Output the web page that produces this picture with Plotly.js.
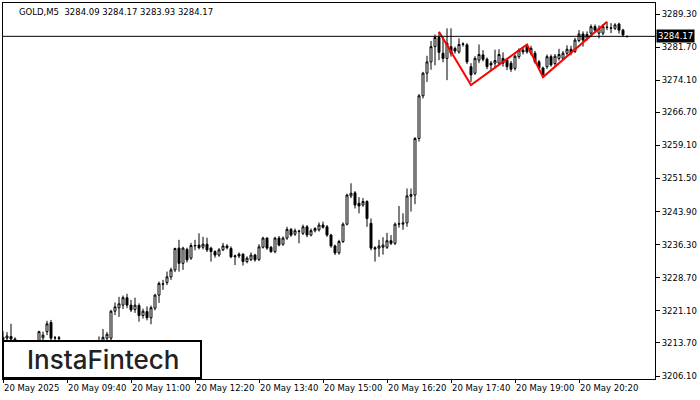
<!DOCTYPE html>
<html>
<head>
<meta charset="utf-8">
<script src="https://cdn.plot.ly/plotly-3.0.1.min.js"></script>
<style>html,body{margin:0;padding:0;background:#fff;}#chart{width:700px;height:400px;}</style>
</head>
<body>
<div id="chart"></div>
<script>
// ---- data ----
const symbol = "GOLD";
const timeframe = "M5";
const openP = [3214.5,3214.8,3215.2,3214.6,3213.6,3212.0,3212.8,3211.9,3212.6,3214.0,
3214.9,3216.3,3218.4,3214.9,3214.9,3213.6,3212.4,3211.3,3212.2,3211.6,
3210.8,3212.0,3212.7,3212.1,3213.0,3213.8,3214.8,3214.8,3221.0,3221.8,
3222.4,3224.1,3222.4,3221.4,3222.3,3220.0,3220.9,3219.5,3221.7,3224.7,
3227.3,3227.6,3228.9,3230.5,3235.5,3232.0,3235.2,3233.2,3236.0,3236.2,
3235.7,3236.4,3235.5,3234.7,3233.9,3235.1,3236.0,3235.4,3233.5,3234.1,
3234.1,3232.4,3232.9,3233.9,3232.9,3235.7,3237.8,3235.7,3234.7,3237.8,
3236.4,3237.8,3239.8,3238.7,3239.3,3238.9,3240.4,3238.5,3239.5,3239.7,
3240.8,3240.4,3238.5,3236.0,3234.4,3237.0,3241.0,3247.5,3248.2,3245.8,
3245.4,3246.2,3241.2,3235.6,3235.5,3235.7,3235.7,3237.2,3236.6,3241.0,
3241.0,3241.3,3247.4,3247.7,3260.7,3270.5,3275.7,3278.3,3281.8,3283.9,
3280.3,3279.1,3281.8,3281.4,3280.6,3282.3,3282.2,3277.2,3275.7,3278.7,
3279.9,3278.9,3278.0,3278.0,3278.0,3279.1,3278.7,3278.0,3276.8,3279.5,
3281.0,3281.8,3280.3,3280.3,3278.3,3276.9,3277.2,3279.5,3277.9,3279.1,
3279.1,3280.3,3281.2,3280.7,3283.2,3284.7,3283.7,3284.9,3286.4,3284.9,
3284.9,3286.3,3286.0,3286.0,3287.0,3285.6,3284.09];
const highP = [3216.4,3216.2,3218.1,3215.0,3213.8,3213.2,3213.6,3213.0,3213.8,3216.5,
3216.3,3218.8,3219.0,3215.3,3215.3,3213.8,3213.5,3212.6,3213.3,3212.4,
3212.5,3213.1,3213.6,3213.4,3215.2,3216.9,3216.2,3221.3,3223.0,3224.3,
3224.6,3225.0,3223.6,3224.1,3222.8,3221.6,3222.1,3222.3,3225.0,3227.8,
3228.2,3230.1,3231.0,3235.6,3237.4,3235.8,3235.6,3236.7,3237.4,3238.9,
3238.1,3237.9,3235.8,3235.0,3235.5,3236.7,3236.4,3235.9,3234.0,3234.5,
3234.3,3233.6,3234.5,3234.2,3236.4,3238.1,3238.0,3236.0,3238.1,3238.3,
3238.2,3240.4,3240.1,3240.0,3239.7,3240.9,3240.8,3240.0,3240.3,3241.4,
3241.6,3240.8,3238.8,3236.3,3237.4,3241.4,3248.0,3250.4,3248.6,3247.2,
3247.0,3246.5,3242.3,3235.9,3237.4,3238.0,3239.0,3238.5,3241.4,3245.2,
3243.5,3249.2,3249.2,3261.0,3270.9,3276.0,3279.7,3283.1,3284.6,3285.2,
3284.1,3286.0,3286.0,3281.8,3283.7,3282.8,3282.6,3278.0,3279.6,3282.3,
3281.0,3279.3,3278.5,3281.1,3281.2,3280.5,3279.0,3278.5,3280.0,3281.4,
3281.5,3282.3,3282.0,3280.8,3278.7,3277.2,3280.0,3280.0,3280.1,3281.3,
3280.8,3282.1,3282.0,3283.8,3285.6,3285.3,3285.3,3286.9,3286.9,3286.7,
3287.0,3287.5,3287.2,3287.2,3287.3,3285.9,3284.17];
const lowP = [3212.0,3213.5,3213.8,3212.5,3211.0,3210.6,3211.5,3210.2,3212.0,3213.2,
3214.0,3215.5,3213.8,3214.0,3213.9,3211.8,3210.9,3209.8,3211.0,3210.0,
3210.3,3211.2,3211.6,3211.4,3211.5,3213.0,3214.0,3214.2,3220.1,3219.7,
3221.5,3221.7,3220.8,3220.6,3218.6,3219.3,3218.9,3218.0,3221.2,3222.9,
3225.9,3227.0,3228.2,3230.0,3230.1,3230.5,3232.2,3232.8,3235.0,3235.2,
3235.2,3234.6,3232.4,3233.3,3233.5,3234.8,3235.2,3233.2,3231.6,3233.2,
3231.5,3232.0,3232.5,3232.4,3232.5,3235.4,3235.1,3234.4,3234.3,3235.9,
3236.0,3237.4,3238.1,3238.3,3236.6,3238.5,3238.0,3238.2,3239.1,3239.3,
3240.0,3238.1,3235.6,3233.9,3234.0,3236.7,3240.7,3247.0,3244.6,3243.5,
3245.0,3240.4,3235.0,3232.4,3233.5,3234.0,3235.3,3236.2,3236.2,3240.2,
3239.7,3240.4,3243.9,3245.6,3260.0,3269.9,3273.7,3276.5,3277.5,3278.7,
3278.2,3274.1,3279.5,3280.2,3280.2,3281.8,3277.8,3273.7,3275.3,3278.0,
3278.4,3276.6,3276.3,3277.0,3277.5,3277.2,3276.4,3276.0,3276.3,3279.0,
3280.0,3280.2,3279.8,3277.9,3276.5,3274.7,3276.7,3277.2,3277.4,3278.6,
3278.7,3279.8,3279.8,3280.3,3282.8,3281.8,3283.2,3284.4,3285.2,3283.7,
3284.4,3285.6,3284.9,3285.6,3284.8,3284.0,3283.93];
const closeP = [3215.0,3215.3,3214.6,3214.2,3212.0,3212.8,3211.9,3212.6,3213.4,3216.3,
3215.5,3218.1,3214.8,3214.9,3214.7,3212.4,3211.3,3212.2,3211.6,3210.8,
3212.0,3212.7,3212.1,3213.0,3213.4,3215.0,3215.7,3221.0,3222.0,3222.7,
3224.1,3222.4,3221.3,3222.4,3220.0,3221.0,3219.5,3221.8,3224.7,3227.4,
3227.2,3228.9,3230.5,3235.4,3232.0,3235.5,3232.8,3236.1,3236.1,3235.6,
3236.4,3235.1,3234.7,3233.9,3235.1,3236.0,3235.6,3233.5,3233.7,3233.7,
3232.4,3233.2,3233.9,3232.8,3235.8,3237.8,3235.5,3234.7,3237.8,3236.2,
3237.8,3239.8,3238.5,3239.5,3239.4,3240.4,3238.5,3239.5,3240.0,3240.8,
3240.3,3238.5,3236.0,3234.4,3237.0,3241.0,3247.7,3248.1,3245.4,3245.2,
3246.2,3242.3,3235.5,3235.3,3236.0,3236.2,3237.2,3236.6,3241.0,3241.1,
3241.3,3247.5,3247.8,3260.7,3270.5,3275.7,3278.3,3281.8,3283.9,3280.5,
3279.1,3282.6,3280.3,3280.8,3282.3,3282.4,3278.3,3275.3,3279.1,3280.0,
3278.9,3277.2,3277.6,3278.6,3280.0,3278.0,3277.2,3276.6,3279.6,3281.0,
3280.6,3280.6,3281.4,3278.3,3276.9,3275.3,3279.5,3277.6,3279.6,3280.0,
3280.3,3281.2,3280.4,3283.3,3284.7,3283.3,3284.6,3286.4,3285.6,3286.0,
3286.4,3286.2,3286.1,3286.8,3285.6,3284.5,3284.17];

// pattern line (candle index, price)
const patternIdx = [109, 117, 131, 135, 151];
const patternPrice = [3285.2, 3273.0, 3282.3, 3274.8, 3287.5];

// axis ticks
const xTickIdx = [0, 16, 32, 48, 64, 80, 96, 112, 128, 144];
const xTickLabels = ["20 May 2025","20 May 09:40","20 May 11:00","20 May 12:20","20 May 13:40","20 May 15:00","20 May 16:20","20 May 17:40","20 May 19:00","20 May 20:20"];
const yTicks = [3289.30, 3281.70, 3274.10, 3266.70, 3259.10, 3251.50, 3243.90, 3236.30, 3228.70, 3221.10, 3213.70, 3206.10];
const logoText = "InstaFintech";

// ---- build ----
const n = openP.length;
const idx = openP.map((_, i) => i);
const last = n - 1;
const lastPrice = closeP[last];
const f2 = v => v.toFixed(2);
const header = symbol + "," + timeframe + "\u00a0 " + [openP[last], highP[last], lowP[last], closeP[last]].map(f2).join(" ");

const tickFont = {family: "DejaVu Sans", size: 8.5, color: "#000"};

const traces = [
  {
    type: "candlestick",
    x: idx, open: openP, high: highP, low: lowP, close: closeP,
    increasing: {line: {color: "#000", width: 1}, fillcolor: "#fff"},
    decreasing: {line: {color: "#000", width: 1}, fillcolor: "#000"},
    whiskerwidth: 0,
    hoverinfo: "skip"
  },
  {
    type: "scatter", mode: "lines",
    x: patternIdx, y: patternPrice,
    line: {color: "#ff0000", width: 2},
    hoverinfo: "skip"
  }
];

const annotations = xTickIdx.map((t, k) => ({
  x: t, xref: "x", y: 0, yref: "paper",
  xanchor: "left", yanchor: "top", yshift: -2, xshift: -1,
  text: xTickLabels[k], showarrow: false, font: tickFont
}));
annotations.push({
  x: 0.0215, xref: "paper", y: 0.977, yref: "paper",
  xanchor: "left", yanchor: "middle",
  text: header, showarrow: false, font: tickFont
});
annotations.push({
  x: 1, xref: "paper", y: lastPrice, yref: "y",
  xanchor: "left", yanchor: "middle", xshift: 1,
  text: f2(lastPrice), showarrow: false,
  font: {family: "DejaVu Sans", size: 8.5, color: "#fff"},
  bgcolor: "#000", borderpad: 1
});
annotations.push({
  x: 0.1535, xref: "paper", y: 0.052, yref: "paper",
  xanchor: "center", yanchor: "middle",
  text: logoText, showarrow: false,
  font: {family: "Inter", size: 26, weight: 500, color: "#222"}
});

const layout = {
  width: 700, height: 400,
  margin: {l: 3, r: 45, t: 3, b: 21},
  paper_bgcolor: "#fff", plot_bgcolor: "#fff",
  showlegend: false,
  xaxis: {
    range: [0, 163], showgrid: false, zeroline: false,
    showline: true, mirror: true, linecolor: "#000", linewidth: 1,
    ticks: "outside", ticklen: 3, tickcolor: "#000",
    tickmode: "array", tickvals: xTickIdx, showticklabels: false,
    rangeslider: {visible: false}
  },
  yaxis: {
    side: "right", range: [3205.42, 3291.83],
    showgrid: false, zeroline: false,
    showline: true, mirror: true, linecolor: "#000", linewidth: 1,
    ticks: "outside", ticklen: 4, tickcolor: "#000",
    tickmode: "array", tickvals: yTicks, ticktext: yTicks.map(f2),
    tickfont: tickFont
  },
  shapes: [
    {type: "line", xref: "paper", x0: 0, x1: 1, yref: "y", y0: lastPrice, y1: lastPrice,
     line: {color: "#000", width: 1}, layer: "above"},
    {type: "rect", xref: "paper", x0: 0, x1: 0.3037, yref: "paper", y0: 0.0027, y1: 0.101,
     line: {color: "#000", width: 2}, fillcolor: "#fff", layer: "above"}
  ],
  annotations: annotations
};

Plotly.newPlot("chart", traces, layout, {staticPlot: true, displayModeBar: false});
</script>
</body>
</html>
